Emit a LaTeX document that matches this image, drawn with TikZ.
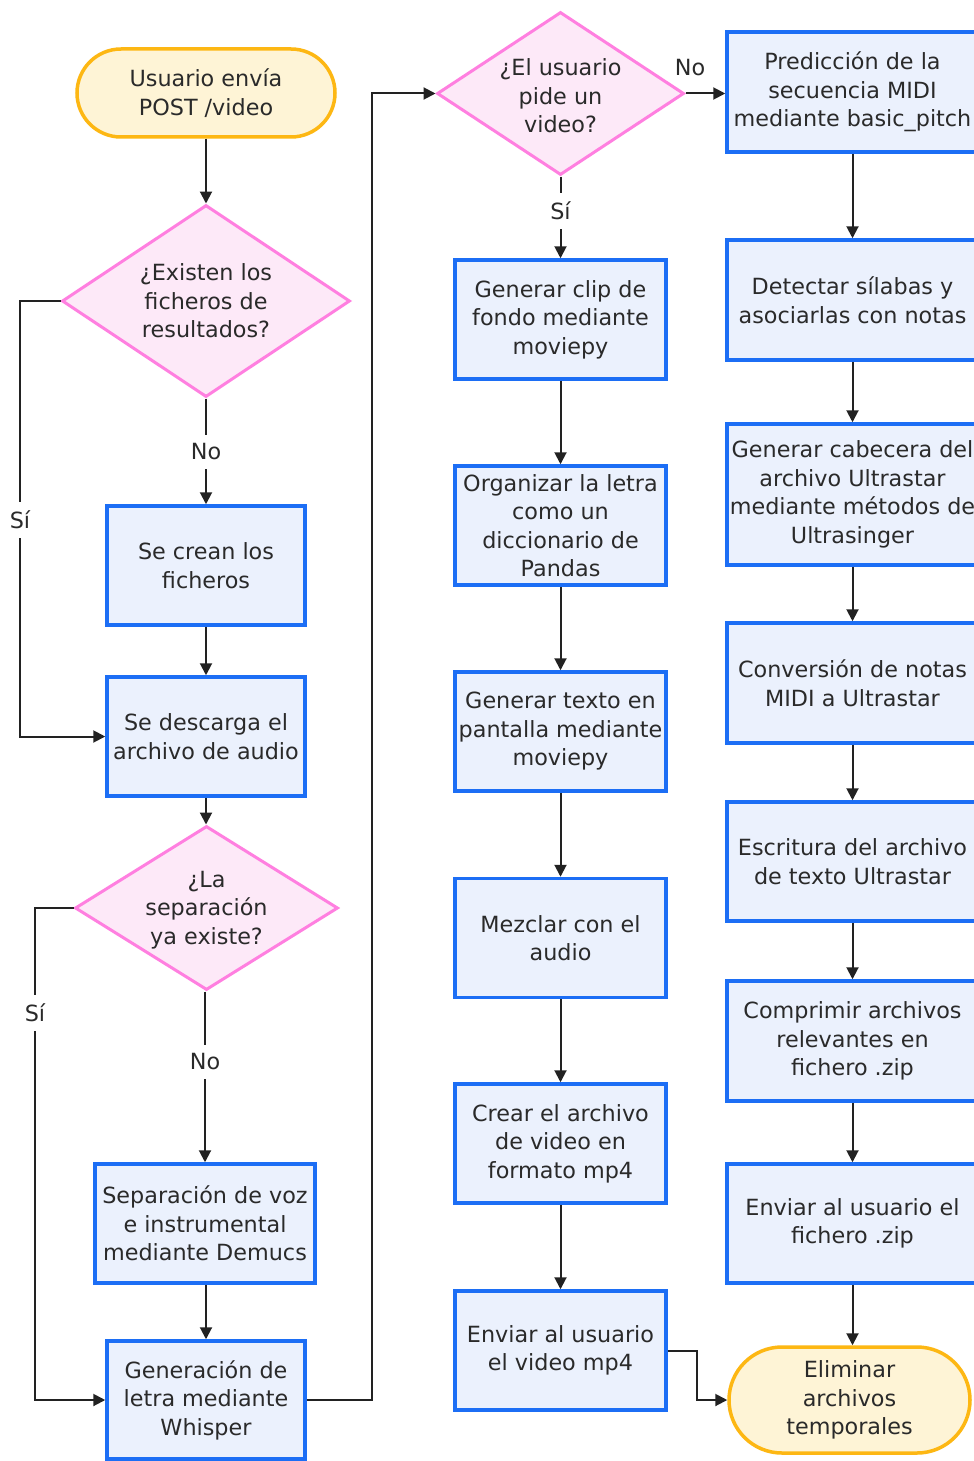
\documentclass[tikz,border=0pt]{standalone}
\usepackage{fontspec}
\setmainfont{DejaVu Sans}
\usetikzlibrary{shapes.geometric,shapes.misc,arrows.meta}
\definecolor{pblue}{HTML}{1C6EF5}
\definecolor{pfill}{HTML}{EBF1FD}
\definecolor{dpink}{HTML}{FF7FE0}
\definecolor{dfill}{HTML}{FDE9F8}
\definecolor{tor}{HTML}{FDB713}
\definecolor{tfill}{HTML}{FEF4D6}
\definecolor{txt}{HTML}{2A2A2A}
\definecolor{lin}{HTML}{222222}
\newcommand{\tf}{\fontsize{22.3}{28.5}\selectfont}
\begin{document}
\begin{tikzpicture}[x=1pt,y=-1pt,
  proc/.style={rectangle, draw=pblue, fill=pfill, line width=3.5pt, text=txt, font=\tf, align=center, inner sep=0pt},
  dec/.style={diamond, draw=dpink, fill=dfill, line width=3pt, inner sep=0pt},
  term/.style={rounded rectangle, draw=tor, fill=tfill, line width=3.5pt, text=txt, font=\tf, align=center, inner sep=0pt},
  txtn/.style={text=txt, font=\tf, align=center, inner sep=0pt},
  lbl/.style={fill=white, text=txt, font=\tf, inner xsep=2pt, inner ysep=9pt},
  arr/.style={draw=lin, line width=2pt, -{Triangle[length=12pt,width=12pt]}},
]
\useasboundingbox (0,0) rectangle (974,1461);
\clip (0,0) rectangle (974,1461);
\fill[white] (0,0) rectangle (974,1461);

% column 1
\node[term, minimum width=258pt, minimum height=88pt] (start) at (206,93) {Usuario envía\\POST /video};
\node[dec, minimum width=288pt, minimum height=192pt] (d1) at (206,301) {};
\node[txtn] (d1t) at (206,301) {¿Existen los\\ficheros de\\resultados?};
\node[proc, minimum width=198pt, minimum height=119pt] (b1) at (206,565.5) {Se crean los\\ficheros};
\node[proc, minimum width=198pt, minimum height=119pt] (b2) at (206,736.5) {Se descarga el\\archivo de audio};
\node[dec, minimum width=263pt, minimum height=164pt] (d2) at (206.5,908) {};
\node[txtn] (d2t) at (206.5,910) {¿La\\separación\\ya existe?};
\node[proc, minimum width=220pt, minimum height=119pt] (b3) at (205,1223.5) {Separación de voz\\e instrumental\\mediante Demucs};
\node[proc, minimum width=198pt, minimum height=118pt] (b4) at (206,1400) {Generación de\\letra mediante\\Whisper};

% column 2
\node[dec, minimum width=247pt, minimum height=163pt] (d3) at (560.5,93.5) {};
\node[txtn] (d3t) at (560.5,96) {¿El usuario\\pide un\\video?};
\node[proc, minimum width=211pt, minimum height=119pt] (m1) at (560.5,319.5) {Generar clip de\\fondo mediante\\moviepy};
\node[proc, minimum width=211pt, minimum height=119pt] (m2) at (560.5,525.5) {Organizar la letra\\como un\\diccionario de\\Pandas};
\node[proc, minimum width=211pt, minimum height=119pt] (m3) at (560.5,731.5) {Generar texto en\\pantalla mediante\\moviepy};
\node[proc, minimum width=211pt, minimum height=119pt] (m4) at (560.5,938) {Mezclar con el\\audio};
\node[proc, minimum width=211pt, minimum height=119pt] (m5) at (560.5,1143.5) {Crear el archivo\\de video en\\formato mp4};
\node[proc, minimum width=211pt, minimum height=119pt] (m6) at (560.5,1350.5) {Enviar al usuario\\el video mp4};

% column 3
\node[proc, minimum width=251pt, minimum height=120pt] (r1) at (852.5,92) {Predicción de la\\secuencia MIDI\\mediante basic\_pitch};
\node[proc, minimum width=251pt, minimum height=120pt] (r2) at (852.5,300) {Detectar sílabas y\\asociarlas con notas};
\node[proc, minimum width=251pt, minimum height=141pt] (r3) at (852.5,494.5) {Generar cabecera del\\archivo Ultrastar\\mediante métodos de\\Ultrasinger};
\node[proc, minimum width=251pt, minimum height=120pt] (r4) at (852.5,683) {Conversión de notas\\MIDI a Ultrastar};
\node[proc, minimum width=251pt, minimum height=119pt] (r5) at (852.5,861.5) {Escritura del archivo\\de texto Ultrastar};
\node[proc, minimum width=251pt, minimum height=120pt] (r6) at (852.5,1041) {Comprimir archivos\\relevantes en\\fichero .zip};
\node[proc, minimum width=251pt, minimum height=119pt] (r7) at (852.5,1223.5) {Enviar al usuario el\\fichero .zip};
\node[term, minimum width=241pt, minimum height=106pt] (end) at (849.5,1400) {Eliminar\\archivos\\temporales};

% connectors column 1
\draw[arr] (start.south) -- (d1.north);
\draw[arr] (d1.south) -- (b1.north);
\node[lbl] (l1) at (206,452) {No};
\draw[arr] (d1.west) -- (20,301) |- (b2.west);
\node[lbl] (l2) at (20,520) {Sí};
\draw[arr] (b1.south) -- (b2.north);
\draw[arr] (b2.south) -- (d2.north -| b2.south);
\draw[arr] (d2.south -| b3.north) -- (b3.north);
\node[lbl] (l3) at (205,1062) {No};
\draw[arr] (d2.west) -- (35,908) |- (b4.west);
\node[lbl] (l4) at (35,1013) {Sí};
\draw[arr] (b3.south -| b4.north) -- (b4.north);
\draw[arr] (b4.east) -- (372,1400) |- (d3.west);

% connectors column 2
\draw[arr] (d3.east) -- (d3.east -| r1.west);
\node[txtn] (l5) at (690,68) {No};
\draw[arr] (d3.south) -- (m1.north);
\node[lbl] (l6) at (560.5,211) {Sí};
\draw[arr] (m1.south) -- (m2.north);
\draw[arr] (m2.south) -- (m3.north);
\draw[arr] (m3.south) -- (m4.north);
\draw[arr] (m4.south) -- (m5.north);
\draw[arr] (m5.south) -- (m6.north);
\draw[arr] (m6.east) -- (697,1350.5) |- (end.west);

% connectors column 3
\draw[arr] (r1.south) -- (r2.north);
\draw[arr] (r2.south) -- (r3.north);
\draw[arr] (r3.south) -- (r4.north);
\draw[arr] (r4.south) -- (r5.north);
\draw[arr] (r5.south) -- (r6.north);
\draw[arr] (r6.south) -- (r7.north);
\draw[arr] (r7.south) -- (r7.south |- end.north);
\end{tikzpicture}
\end{document}
